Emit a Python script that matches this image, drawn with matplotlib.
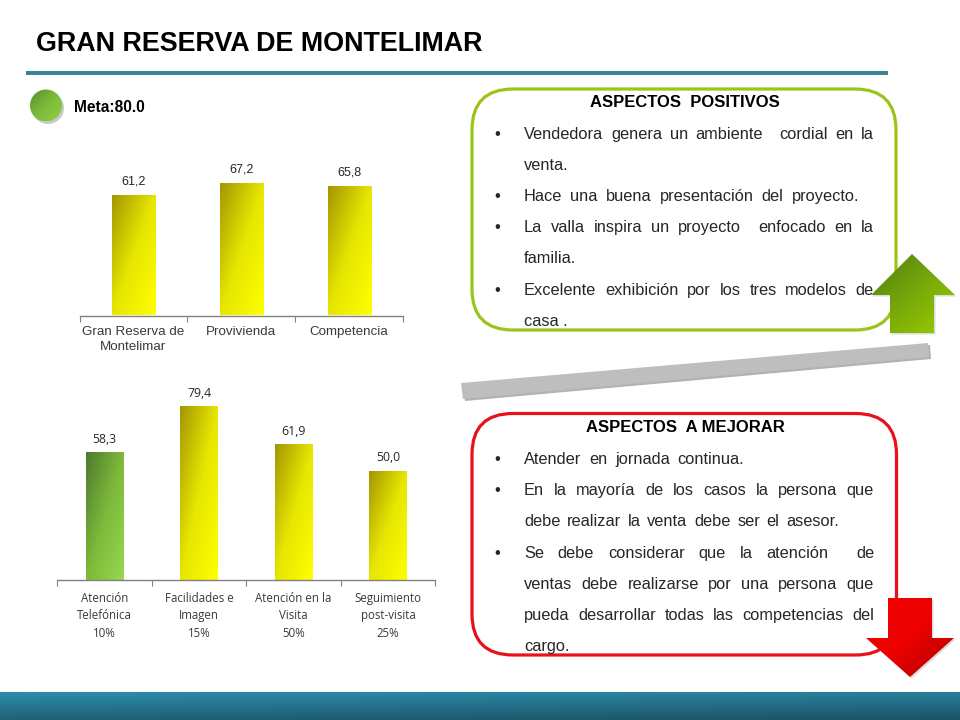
import re
import numpy as np
import matplotlib
matplotlib.use("Agg")
import matplotlib.pyplot as plt
from matplotlib.colors import LinearSegmentedColormap
from matplotlib.patches import Polygon, FancyBboxPatch, Circle

# ---- data ----
title = "GRAN RESERVA DE MONTELIMAR"
meta_label = "Meta:80.0"
top_categories = ["Gran Reserva de\nMontelimar", "Provivienda", "Competencia"]
top_values = [61.2, 67.2, 65.8]
bottom_categories = ["Atención\nTelefónica\n10%", "Facilidades e\nImagen\n15%",
                     "Atención en la\nVisita\n50%", "Seguimiento\npost-visita\n25%"]
bottom_values = [58.3, 79.4, 61.9, 50.0]
bottom_green = [True, False, False, False]

pos_header = "ASPECTOS  POSITIVOS"
pos_lines = [("Vendedora genera un ambiente  cordial en la", 874), ("venta.", None),
             ("Hace una buena presentación del proyecto.", 859),
             ("La valla inspira un proyecto  enfocado en la", 874), ("familia.", None),
             ("Excelente exhibición por los tres modelos de", 874), ("casa .", None)]
neg_header = "ASPECTOS  A MEJORAR"
neg_lines = [("Atender en jornada continua.", 744),
             ("En la mayoría de los casos la persona que", 874),
             ("debe realizar la venta debe ser el asesor.", 839),
             ("Se debe considerar que la atención  de", 874),
             ("ventas debe realizarse por una persona que", 874),
             ("pueda desarrollar todas las competencias del", 874),
             ("cargo.", None)]

W, H = 960, 720
fig = plt.figure(figsize=(W / 100, H / 100), dpi=100, facecolor="white")
ov = fig.add_axes([0, 0, 1, 1], zorder=5)
ov.set_xlim(0, W); ov.set_ylim(H, 0); ov.axis("off"); ov.patch.set_alpha(0)

SANS = "Liberation Sans"
YEL = ("#A39600", "#E6E600", "#FFFF00")
GRN = ("#4E7A2E", "#7DB93A", "#98D84E")
INK = "#262626"


def gradient(ax, extent, colors, clip=None, z=2):
    """Diagonal gradient, dark top-left to bright bottom-right."""
    cmap = LinearSegmentedColormap.from_list("g", colors)
    u, v = np.meshgrid(np.linspace(0, 1, 64), np.linspace(0, 1, 64))
    im = ax.imshow((u + v) / 2, extent=extent, cmap=cmap, vmin=0, vmax=1,
                   aspect="auto", zorder=z, origin="upper", interpolation="bilinear")
    if clip is not None:
        im.set_clip_path(clip)
    return im


def bar_axes(x0, x1, ybot, ytop, ymax, cats, vals, green, catfont, catsize, lblfont, lblsize, linesp, pad, lpad):
    ax = fig.add_axes([x0 / W, 1 - ybot / H, (x1 - x0) / W, (ybot - ytop) / H], zorder=6)
    ax.patch.set_alpha(0)
    xs = np.arange(len(vals))
    bars = ax.bar(xs, vals, width=0.4, color="none", zorder=2)
    ax.set_xlim(-0.5, len(vals) - 0.5); ax.set_ylim(0, ymax)
    for b, g in zip(bars, green):
        e = (b.get_x(), b.get_x() + b.get_width(), 0, b.get_height())
        gradient(ax, e, GRN if g else YEL, clip=b)
    ax.set_xlim(-0.5, len(vals) - 0.5); ax.set_ylim(0, ymax)
    ax.bar_label(bars, labels=[f"{v:.1f}".replace(".", ",") for v in vals], padding=lpad,
                 fontsize=lblsize, family=lblfont, color=INK)
    for s in ("left", "right", "top"):
        ax.spines[s].set_visible(False)
    ax.spines["bottom"].set_color("#808080"); ax.spines["bottom"].set_linewidth(1.0)
    ax.set_yticks([])
    ax.set_xticks(np.arange(len(vals) + 1) - 0.5, labels=[])
    ax.tick_params(axis="x", which="major", length=4, width=0.8, color="#808080", direction="out")
    ax.set_xticks(xs, labels=cats, minor=True)
    ax.tick_params(axis="x", which="minor", length=0, pad=pad, labelsize=catsize, labelcolor="#3A3A3A")
    for t in ax.get_xticklabels(minor=True):
        t.set_family(catfont); t.set_linespacing(linesp)
    return ax


bar_axes(79.5, 403, 315.5, 130, 185.5 / 1.97, top_categories, top_values, [False] * 3,
         SANS, 9.6, SANS, 9, 1.35, 7.5, 5.5)
bar_axes(57.3, 435.3, 580.3, 390, 190.3 / 2.195, bottom_categories, bottom_values, bottom_green,
         "Open Sans", 8.3, "Open Sans", 8.8, 1.42, 8.5, 4.5)

# ---- slide furniture ----
ov.text(36, 51, title, family=SANS, weight="bold", fontsize=19.4, va="baseline", color="black")
ov.fill_between([26, 888], 70.5, 74.5, color="#3A8497", lw=0)
cm = LinearSegmentedColormap.from_list("b", ["#2C8DAB", "#1C5266"])
uu, vv = np.meshgrid(np.linspace(0, 1, 200), np.linspace(0, 1, 30))
ov.imshow(0.25 * uu + 0.75 * vv, extent=(0, W, H, 692.5), cmap=cm, aspect="auto", vmin=0, vmax=1, zorder=1)
ov.set_xlim(0, W); ov.set_ylim(H, 0)

# legend dot
ov.add_patch(Circle((48, 108), 16, fc="#888888", alpha=0.45, ec="none", zorder=2))
dot = Circle((46, 105.5), 16, fc="none", ec="none", zorder=3)
ov.add_patch(dot)
gradient(ov, (30, 62, 121.5, 89.5), ("#5C8A2E", "#7DBB3A", "#8FD045"), clip=dot, z=3)
ov.text(74, 107, meta_label, family=SANS, weight="bold", fontsize=11.2, va="center", color="black")

# rounded boxes
for (x0, y0, x1, y1, col) in [(472, 89, 896, 330, "#9CC31A"), (472, 413.5, 896.5, 655, "#E8101A")]:
    r = 41
    ov.add_patch(FancyBboxPatch((x0 + r, y0 + r), x1 - x0 - 2 * r, y1 - y0 - 2 * r,
                                boxstyle=f"round,pad={r},rounding_size={r}",
                                fc="white", ec=col, lw=2.3, zorder=2))

# slanted grey bar
ov.add_patch(Polygon([(463, 385), (930, 345), (931, 359), (465, 401)], fc="#666666", alpha=0.5, ec="none", zorder=2))
ov.add_patch(Polygon([(461, 383), (928, 343), (929, 357), (463, 399)], fc="#BEBEBE", ec="none", zorder=3))

# arrows
up = [(912, 254), (955, 295), (934, 295), (934, 333), (890, 333), (890, 295), (871, 295)]
down = [(888, 598), (932, 598), (932, 638), (954, 638), (910, 677), (866, 638), (888, 638)]
for pts, ext, cols in [(up, (870, 956, 334, 254), ("#4F7A10", "#78A80A", "#9BD000")),
                       (down, (866, 954, 678, 598), ("#F40000", "#EC0000", "#B00000"))]:
    ov.add_patch(Polygon([(x + 1.5, y + 1.5) for x, y in pts], fc="#999999", alpha=0.35, ec="none", zorder=7))
    p = Polygon(pts, fc="none", ec="none", zorder=8)
    ov.add_patch(p)
    gradient(ov, ext, cols, clip=p, z=8)
ov.set_xlim(0, W); ov.set_ylim(H, 0)

# ---- justified text ----
FS = 11.8
rend = fig.canvas.get_renderer()


def put_line(s, y, just_to):
    x0 = 524
    if just_to is None:
        ov.text(x0, y, s, family=SANS, fontsize=FS, color=INK, va="baseline", zorder=4)
        return
    parts = re.findall(r"(\S+)(\s*)", s)
    ts = [ov.text(0, y, w, family=SANS, fontsize=FS, color=INK, va="baseline", zorder=4) for w, _ in parts]
    ws = [t.get_window_extent(rend).width for t in ts]
    gaps = [len(sp) for _, sp in parts]
    unit = (just_to - x0 - sum(ws)) / max(sum(gaps), 1)
    x = x0
    for t, w, g in zip(ts, ws, gaps):
        t.set_x(x)
        x += w + g * unit


def block(header, hx, hy, lines, ys, bullets):
    ov.text(hx, hy, header, family=SANS, weight="bold", fontsize=12, ha="center", va="baseline", color="black", zorder=4)
    for (s, end), y in zip(lines, ys):
        put_line(s, y, end)
    for y in bullets:
        ov.text(497, y, "•", family=SANS, fontsize=FS, ha="center", va="baseline", color=INK, zorder=4)


block(pos_header, 685, 107, pos_lines, [139, 170, 201, 232, 263, 295, 326], [139, 201, 232, 295])
block(neg_header, 685, 432, neg_lines, [464, 495, 526, 558, 589, 620, 651], [464, 495, 558])

fig.savefig("out.png", dpi=100)
